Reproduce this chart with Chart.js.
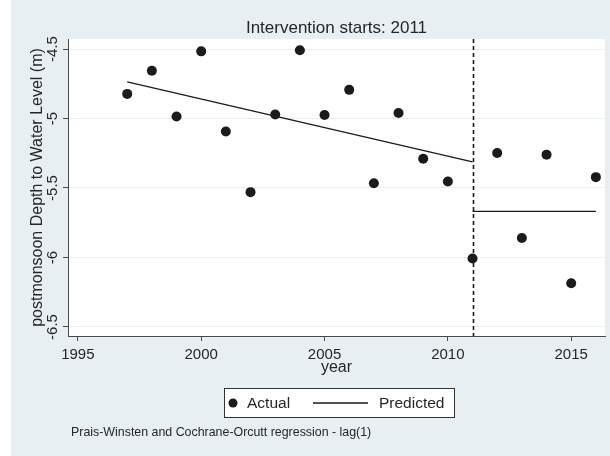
<!DOCTYPE html>
<html>
<head>
<meta charset="utf-8">
<title>Intervention starts: 2011</title>
<script src="https://cdn.jsdelivr.net/npm/chart.js@4.4.0/dist/chart.umd.min.js"></script>
<style>
  html, body { margin: 0; padding: 0; background: #ffffff; }
  #wrap { width: 610px; height: 456px; }
  canvas { display: block; }
</style>
</head>
<body>
<div id="wrap"><canvas id="itsChart" width="610" height="456"></canvas></div>
<script>
// ==================== Data ====================
const years = [1997, 1998, 1999, 2000, 2001, 2002, 2003, 2004, 2005, 2006,
               2007, 2008, 2009, 2010, 2011, 2012, 2013, 2014, 2015, 2016];
const actualDepth = [-4.823, -4.656, -4.985, -4.517, -5.093, -5.530, -4.971, -4.509, -4.975, -4.794,
                     -5.466, -4.960, -5.289, -5.453, -6.008, -5.248, -5.860, -5.260, -6.185, -5.422];

// fitted segments before / after the intervention
const preYears = [1997, 2011];
const prePredicted = [-4.737, -5.312];
const postYears = [2011, 2016];
const postPredicted = [-5.668, -5.668];

const interventionYear = 2011;

const xTicks = [1995, 2000, 2005, 2010, 2015];
const xTickLabels = ['1995', '2000', '2005', '2010', '2015'];
const yTicks = [-6.5, -6, -5.5, -5, -4.5];
const yTickLabels = ['-6.5', '-6', '-5.5', '-5', '-4.5'];
const xRange = [1994.6, 2016.37];
const yRange = [-6.565, -4.428];

const titleText = 'Intervention starts: ' + interventionYear;
const xTitle = 'year';
const yTitle = 'postmonsoon Depth to Water Level (m)';
const noteText = 'Prais-Winsten and Cochrane-Orcutt regression - lag(1)';

(function() {
  'use strict';

  // ==================== Styles ====================
  const FONT = '"Liberation Sans", Arial, sans-serif';
  const INK = '#1b1b1b';
  const TEXT = '#262626';
  const AXIS = '#4a4a4a';
  const BG = '#e8eff2';

  function toPoints(xs, ys) {
    return xs.map((x, i) => ({ x: x, y: ys[i] }));
  }

  // ==================== Plugins ====================

  // graph region + white plot region
  const backdrop = {
    id: 'backdrop',
    beforeDraw(chart) {
      const { ctx, width, height, chartArea: a } = chart;
      ctx.save();
      ctx.fillStyle = '#ffffff';
      ctx.fillRect(0, 0, width, height);
      ctx.fillStyle = BG;
      ctx.fillRect(11, 0, width - 11, height);
      ctx.fillStyle = '#ffffff';
      ctx.fillRect(a.left, a.top, a.right - a.left, a.bottom - a.top);
      ctx.restore();
    }
  };

  // dashed line at the intervention year
  const interventionLine = {
    id: 'interventionLine',
    beforeDatasetsDraw(chart) {
      const { ctx, chartArea: a, scales } = chart;
      const x = Math.round(scales.x.getPixelForValue(interventionYear)) + 0.5;
      ctx.save();
      ctx.strokeStyle = INK;
      ctx.lineWidth = 1.6;
      ctx.setLineDash([4, 3]);
      ctx.beginPath();
      ctx.moveTo(x, a.top);
      ctx.lineTo(x, a.bottom);
      ctx.stroke();
      ctx.restore();
    }
  };

  // titles, tick labels, legend and note
  const annotations = {
    id: 'annotations',
    afterDraw(chart) {
      const { ctx, chartArea: a, scales } = chart;
      const midX = (a.left + a.right) / 2;
      const midY = (a.top + a.bottom) / 2;
      ctx.save();
      ctx.fillStyle = TEXT;

      // title
      ctx.font = '17px ' + FONT;
      ctx.textAlign = 'center';
      ctx.textBaseline = 'middle';
      ctx.fillText(titleText, midX, 28);

      // x tick labels + title
      ctx.font = '15px ' + FONT;
      xTicks.forEach((v, i) => {
        ctx.fillText(xTickLabels[i], scales.x.getPixelForValue(v), a.bottom + 19);
      });
      ctx.font = '16px ' + FONT;
      ctx.fillText(xTitle, midX, a.bottom + 32);

      // y tick labels (rotated) + title
      ctx.font = '15px ' + FONT;
      yTicks.forEach((v, i) => {
        ctx.save();
        ctx.translate(a.left - 15, scales.y.getPixelForValue(v));
        ctx.rotate(-Math.PI / 2);
        ctx.fillText(yTickLabels[i], 0, 0);
        ctx.restore();
      });
      ctx.font = '16px ' + FONT;
      ctx.save();
      ctx.translate(a.left - 30, midY);
      ctx.rotate(-Math.PI / 2);
      ctx.fillText(yTitle, 0, 0);
      ctx.restore();

      // legend
      const box = { x: 224.5, y: 388.5, w: 230, h: 29 };
      const cy = box.y + box.h / 2;
      ctx.fillStyle = '#ffffff';
      ctx.fillRect(box.x, box.y, box.w, box.h);
      ctx.strokeStyle = '#333333';
      ctx.lineWidth = 1;
      ctx.strokeRect(box.x, box.y, box.w, box.h);

      const actual = chart.data.datasets[0];
      const predicted = chart.data.datasets[1];
      ctx.fillStyle = actual.pointBackgroundColor;
      ctx.beginPath();
      ctx.arc(233, cy, 4.5, 0, Math.PI * 2);
      ctx.fill();
      ctx.strokeStyle = predicted.borderColor;
      ctx.lineWidth = predicted.borderWidth;
      ctx.beginPath();
      ctx.moveTo(313, cy);
      ctx.lineTo(368, cy);
      ctx.stroke();
      ctx.fillStyle = TEXT;
      ctx.textAlign = 'left';
      ctx.font = '15.5px ' + FONT;
      ctx.fillText(actual.label, 247, cy + 1);
      ctx.fillText(predicted.label, 379, cy + 1);

      // note
      ctx.font = '12.4px ' + FONT;
      ctx.fillText(noteText, 71, 433);
      ctx.restore();
    }
  };

  // ==================== Chart ====================

  function createChart() {
    const ctx = document.getElementById('itsChart').getContext('2d');

    return new Chart(ctx, {
      type: 'scatter',
      data: {
        datasets: [
          {
            label: 'Actual',
            data: toPoints(years, actualDepth),
            showLine: false,
            pointRadius: 5,
            pointBackgroundColor: INK,
            pointBorderWidth: 0
          },
          {
            label: 'Predicted',
            data: toPoints(preYears, prePredicted),
            showLine: true,
            borderColor: INK,
            borderWidth: 1.3,
            pointRadius: 0
          },
          {
            label: 'Predicted',
            data: toPoints(postYears, postPredicted),
            showLine: true,
            borderColor: INK,
            borderWidth: 1.3,
            pointRadius: 0
          }
        ]
      },
      options: {
        responsive: false,
        animation: false,
        devicePixelRatio: 1,
        layout: {
          padding: { left: 63, top: 39, right: 2, bottom: 115 }
        },
        plugins: {
          legend: { display: false },
          title: { display: false },
          tooltip: { enabled: false }
        },
        scales: {
          x: {
            type: 'linear',
            min: xRange[0],
            max: xRange[1],
            afterBuildTicks: scale => {
              scale.ticks = xTicks.map(v => ({ value: v }));
            },
            ticks: { display: false },
            grid: {
              drawOnChartArea: false,
              drawTicks: true,
              tickLength: 5,
              tickColor: AXIS
            },
            border: { display: true, color: AXIS, width: 1 }
          },
          y: {
            type: 'linear',
            min: yRange[0],
            max: yRange[1],
            afterBuildTicks: scale => {
              scale.ticks = yTicks.map(v => ({ value: v }));
            },
            ticks: { display: false },
            grid: {
              color: '#e9eef0',
              lineWidth: 1,
              drawTicks: true,
              tickLength: 5,
              tickColor: AXIS
            },
            border: { display: true, color: AXIS, width: 1 }
          }
        }
      },
      plugins: [backdrop, interventionLine, annotations]
    });
  }

  // ==================== Bootstrap ====================

  if (document.readyState === 'loading') {
    document.addEventListener('DOMContentLoaded', createChart);
  } else {
    createChart();
  }
})();
</script>
</body>
</html>
